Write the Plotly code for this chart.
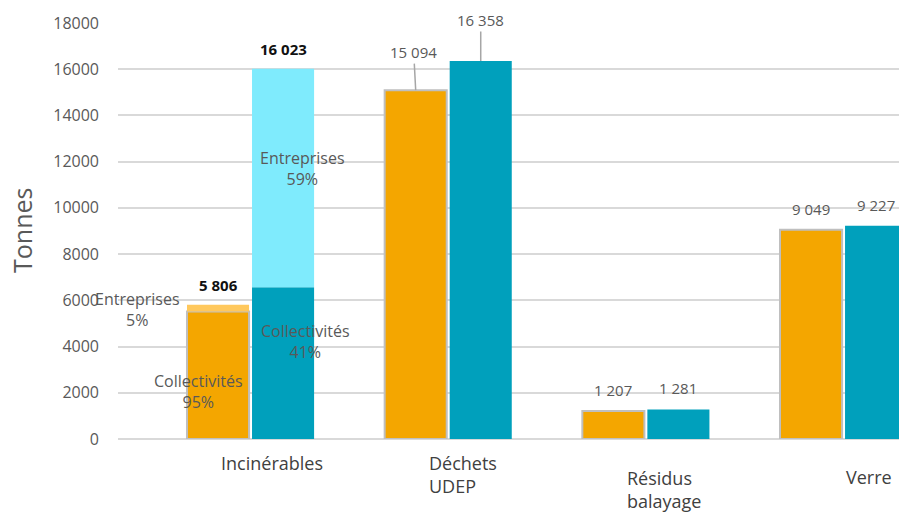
import plotly.graph_objects as go

categories = ["Incinérables", "Déchets UDEP", "Résidus balayage", "Verre"]
serie_a = [5806, 15094, 1207, 9049]      # orange
serie_b = [16023, 16358, 1281, 9227]     # teal
# Incinérables split (%)
a_collect_pct, a_entre_pct = 95, 5
b_collect_pct, b_entre_pct = 41, 59

FONT = "Open Sans"
ORANGE = "#F4A600"
ORANGE_LIGHT = "#FFC85C"
TEAL = "#00A0BC"
TEAL_LIGHT = "#7FEBFD"
GREY = "#595959"

xs = list(range(len(categories)))
W = 0.314
OFF_A, OFF_B = -0.319, 0.010

a_main = [serie_a[0] * a_collect_pct / 100] + serie_a[1:]
a_top = [serie_a[0] - a_main[0]]
b_main = [serie_b[0] * b_collect_pct / 100] + serie_b[1:]
b_top = [serie_b[0] - b_main[0]]

fig = go.Figure()
fig.add_bar(x=xs, y=a_main, offset=OFF_A, width=W, marker=dict(color=ORANGE, line=dict(color="#BFBFBF", width=2)), hoverinfo="skip")
fig.add_bar(x=xs[:1], y=a_top, base=a_main[:1], offset=OFF_A, width=W, marker=dict(color=ORANGE_LIGHT, line=dict(width=0)), hoverinfo="skip")
fig.add_bar(x=xs, y=b_main, offset=OFF_B, width=W, marker=dict(color=TEAL, line=dict(width=0)), hoverinfo="skip")
fig.add_bar(x=xs[:1], y=b_top, base=b_main[:1], offset=OFF_B, width=W, marker=dict(color=TEAL_LIGHT, line=dict(width=0)), hoverinfo="skip")

def fmt(v):
    return f"{v:,}".replace(",", " ")

ann = []
ca, cb = OFF_A + W / 2, OFF_B + W / 2
for i, (va, vb) in enumerate(zip(serie_a, serie_b)):
    for v, c in ((va, ca), (vb, cb)):
        if i == 0:
            ann.append(dict(x=i + c, y=v, text=f"<b>{fmt(v)}</b>", showarrow=False, yanchor="bottom", yshift=8,
                            font=dict(family=FONT, size=15, color="#111111")))
        elif i == 1:
            ann.append(dict(x=i + c, y=v, text=fmt(v), showarrow=True, arrowhead=0, arrowwidth=1.5,
                            arrowcolor="#A6A6A6", ax=-2 if v == va else 0, ay=-38 if v == va else -41,
                            font=dict(family=FONT, size=15, color=GREY)))
        else:
            ann.append(dict(x=i + c, y=v, text=fmt(v), showarrow=False, yanchor="bottom", yshift=9,
                            font=dict(family=FONT, size=15, color=GREY)))

seg_font = dict(family=FONT, size=16, color=GREY)
ann += [
    dict(x=-0.567, y=5582, text=f"Entreprises<br>{a_entre_pct}%", showarrow=False, font=seg_font),
    dict(x=-0.263, y=2077, text=f"Collectivités<br>{a_collect_pct}%", showarrow=False, font=seg_font),
    dict(x=0.263, y=11683, text=f"Entreprises<br>{b_entre_pct}%", showarrow=False, font=seg_font),
    dict(x=0.278, y=4240, text=f"Collectivités<br>{b_collect_pct}%", showarrow=False, font=seg_font),
]

cat_font = dict(family=FONT, size=18, color="#404040")
def py(p):
    return (439 - p) / 416

ann += [
    dict(x=0.11, y=py(463), xref="x", yref="paper", text=categories[0], showarrow=False,
         xanchor="center", yanchor="middle", font=cat_font),
    dict(x=1 - 0.106, y=py(475), xref="x", yref="paper", text="Déchets<br>UDEP", showarrow=False,
         xanchor="left", yanchor="middle", align="left", font=cat_font),
    dict(x=2 - 0.104, y=py(489), xref="x", yref="paper", text="Résidus<br>balayage", showarrow=False,
         xanchor="left", yanchor="middle", align="left", font=cat_font),
    dict(x=3 + 0.13, y=py(477), xref="x", yref="paper", text=categories[3], showarrow=False,
         xanchor="center", yanchor="middle", font=cat_font),
    dict(x=(22 - 118) / 781, y=py(231), xref="paper", yref="paper", text="Tonnes", textangle=-90, showarrow=False,
         xanchor="center", yanchor="middle", font=dict(family=FONT, size=25, color=GREY)),
]

fig.update_layout(
    width=899, height=514,
    margin=dict(l=118, r=0, t=23, b=75),
    paper_bgcolor="white", plot_bgcolor="white",
    barmode="overlay", showlegend=False,
    annotations=ann,
    xaxis=dict(range=[-0.668, 3.283], showticklabels=False, showgrid=False, zeroline=False, fixedrange=True),
    yaxis=dict(range=[0, 18000], dtick=2000, tickformat="d", gridcolor="#D9D9D9", gridwidth=2,
               zeroline=True, zerolinecolor="#D9D9D9", zerolinewidth=2, ticks="", ticklabelstandoff=18,
               fixedrange=True, tickfont=dict(family=FONT, size=16, color=GREY)),
)
fig.update_traces(cliponaxis=False)
fig.write_html("out.html", config={"displayModeBar": False},
               post_script="document.body.style.margin='0';document.body.style.overflow='hidden';")
